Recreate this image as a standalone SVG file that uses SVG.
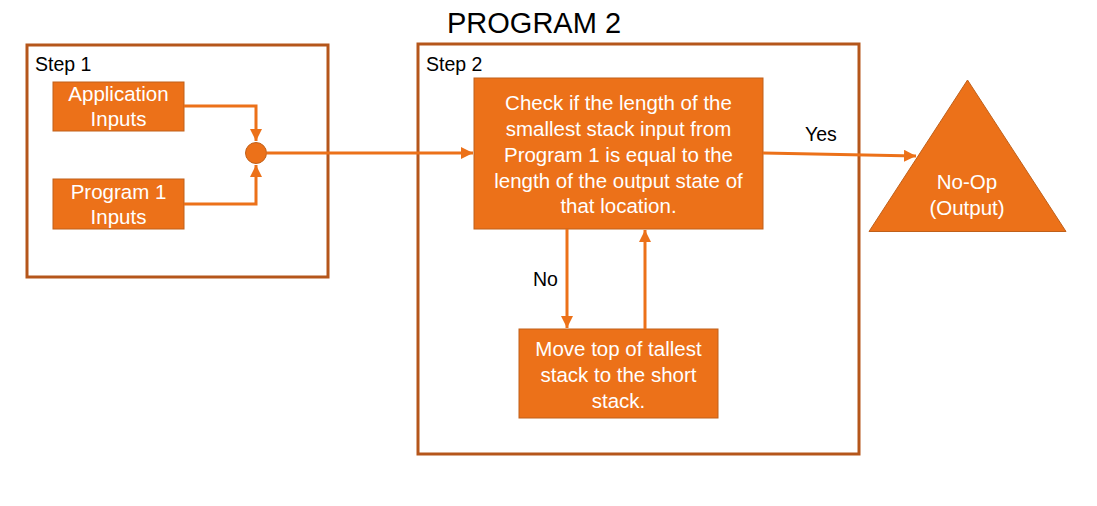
<svg xmlns="http://www.w3.org/2000/svg" width="1097" height="506" viewBox="0 0 1097 506">
<style>
.frame{fill:#fff;stroke:#B5561B;stroke-width:3}
.box{fill:#EC7119;stroke:#C0601A;stroke-width:1}
.wt{font-family:"Liberation Sans",Arial,sans-serif;font-size:20.5px;fill:#fff;text-anchor:middle}
.bt{font-family:"Liberation Sans",Arial,sans-serif;font-size:19.5px;fill:#000}
.ln{fill:none;stroke:#EC7119;stroke-width:3}
</style>
<defs>
<marker id="ah" viewBox="0 0 10 10" refX="10" refY="5" markerWidth="4" markerHeight="4" markerUnits="strokeWidth" orient="auto">
<path d="M0,0 L10,5 L0,10 z" fill="#EC7119"/>
</marker>
</defs>
<rect width="1097" height="506" fill="#fff"/>
<text x="534" y="33" font-family="Liberation Sans,Arial,sans-serif" font-size="29" text-anchor="middle" fill="#000">PROGRAM 2</text>
<g id="step1">
<rect class="frame" x="27" y="45" width="301" height="232"/>
<text class="bt" x="35" y="71">Step 1</text>
</g>
<g id="step2">
<rect class="frame" x="418" y="44" width="441" height="410"/>
<text class="bt" x="426" y="71">Step 2</text>
</g>
<g id="app">
<rect class="box" x="53" y="82" width="131" height="49"/>
<text class="wt" x="118.5" y="101">Application</text>
<text class="wt" x="118.5" y="126">Inputs</text>
</g>
<g id="prog1">
<rect class="box" x="53" y="179" width="131" height="50"/>
<text class="wt" x="118.5" y="199">Program 1</text>
<text class="wt" x="118.5" y="224">Inputs</text>
</g>
<g id="join">
<circle cx="256" cy="153" r="10.5" fill="#EC7119" stroke="#C0601A" stroke-width="1"/>
</g>
<g id="check">
<rect class="box" x="474" y="78" width="289" height="151"/>
<text class="wt" x="618.5" y="110">Check if the length of the</text>
<text class="wt" x="618.5" y="136">smallest stack input from</text>
<text class="wt" x="618.5" y="162">Program 1 is equal to the</text>
<text class="wt" x="618.5" y="188">length of the output state of</text>
<text class="wt" x="618.5" y="213">that location.</text>
</g>
<g id="move">
<rect class="box" x="519" y="329" width="199" height="89"/>
<text class="wt" x="618.5" y="356">Move top of tallest</text>
<text class="wt" x="618.5" y="382">stack to the short</text>
<text class="wt" x="618.5" y="408">stack.</text>
</g>
<g id="noop">
<polygon points="967.5,80 869,231.5 1066,231.5" fill="#EC7119" stroke="#C0601A" stroke-width="1"/>
<text class="wt" x="967" y="189">No-Op</text>
<text class="wt" x="967" y="215">(Output)</text>
</g>
<g id="connectors">
<polyline class="ln" points="184,106 256,106 256,141" marker-end="url(#ah)"/>
<polyline class="ln" points="184,204 256,204 256,165" marker-end="url(#ah)"/>
<line class="ln" x1="266.5" y1="153" x2="473" y2="153" marker-end="url(#ah)"/>
<line class="ln" x1="763" y1="153" x2="916" y2="156" marker-end="url(#ah)"/>
<line class="ln" x1="567" y1="229" x2="567" y2="328" marker-end="url(#ah)"/>
<line class="ln" x1="645" y1="329" x2="645" y2="230" marker-end="url(#ah)"/>
<text class="bt" x="805" y="141">Yes</text>
<text class="bt" x="533" y="286">No</text>
</g>
</svg>
